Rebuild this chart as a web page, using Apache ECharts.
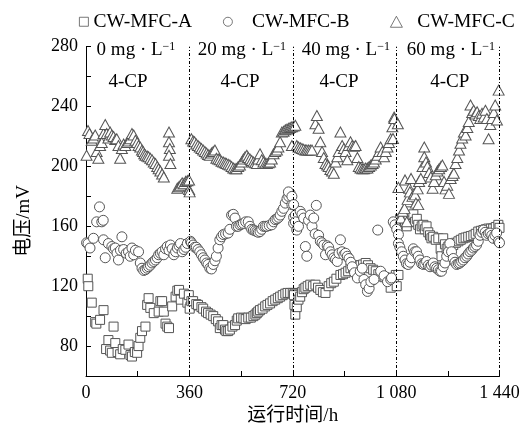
<!DOCTYPE html>
<html>
<head>
<meta charset="utf-8">
<script src="https://cdn.jsdelivr.net/npm/echarts@6.0.0/dist/echarts.min.js"></script>
<style>
  html, body { margin: 0; padding: 0; background: #fff; }
  #main { width: 526px; height: 437px; }
</style>
</head>
<body>
<div id="main"></div>
<script>
"use strict";
// [运行时间 h, 电压 mV]
var dataA = [
  [6,125],[8,120],[20,109],[32,96],[36,95],[49,97.5],[61,104],[70,78],[78,84],[84,77],[90,75.5],[96,93],[102,82],[110,76],[119,74.5],[128,78],[137,77.5],[148,81],[155,74],[160,73],[170,76],[178,75.5],[183,80],[189,85.5],[195,90],[207,93],[213,107.5],[218,112],[224,105.5],[236,102],[253,103],[259,110],[265,110],[271,103],[277,95],[283,93],[289,92],[300,106.5],[312,113],[318,117],[324,117.5],[330,111],[341,115],[353,109],[358,114],[364,106.5],
  [361,105],[367,110],[373,110],[384,108],[390,107.5],[402,106],[408,105],[418,103],[425,102],[434,101],[443,100],[452,98],[460,96.5],[466,92],[472,94],[478,94],[484,91],[489,90],[495,90],[501,91],[510,93],[519,94],[525,97],[530,98.5],[540,99],[548,98.5],[556,98],[565,99],[574,99],[583,100],[590,101],[595,102],[600,103],[606,104],[615,105],[624,106.5],[632,107.5],[641,108.5],[650,110],[659,111],[668,112],[676,113],[685,114],[694,115],[702,115.5],[711,115.5],[720,115.5],[726,115],[729,101],
  [724,114],[726,107.5],[734,106],[740,111],[746,113],[752,116],[758,118],[764,119],[772,120],[781,121],[790,120],[799,121],[808,119],[816,117.5],[825,116],[834,115.5],[845,120],[854,122],[863,123],[872,125],[886,127.5],[895,128],[904,129],[913,130],[921,132],[930,132.5],[939,133],[947,134],[956,134],[965,134.5],[974,135.5],[982,134],[991,132],[1000,131],[1009,130],[1018,128],[1026,126.5],[1040,126],[1050,125.5],[1061,119],[1072,125],[1079,127.5],[1082,120],
  [1088,127.5],[1094,165],[1100,163],[1105,165],[1111,162],[1117,160],[1123,166],[1129,170],[1134,167.5],[1140,168],[1146,163],[1152,165],[1157,161],[1163,158],[1169,160],[1175,161],[1180,158],[1186,160],[1192,156],[1198,154],[1203,152],[1209,153],[1218,151],[1227,152],[1235,145],[1238,140],[1244,152],[1250,148],[1256,145],[1262,146.5],[1270,148],[1279,147.5],[1288,149],[1297,150],[1305,151],[1314,152],[1322,152.5],[1331,153],[1340,153.5],[1349,154],[1357,155],[1366,156.5],[1375,157],[1384,157.5],[1392,158],[1401,158.5],[1410,158.5],[1418,158.5],[1427,159.5],[1436,161],[1440,159]
];
var dataB = [
  [2,149],[7,148.5],[14,145.5],[26,152],[37,163],[47,173],[55,163],[60,164],[61,151],[67,139],[78,148.5],[90,146.5],[96,145],[102,145.5],[108,142],[113,137.5],[120,144],[125,153],[131,144.5],[140,142],[148,143],[154,140],[160,145.5],[166,141],[172,144],[183,143],[189,135.5],[195,132],[201,130.5],[207,131],[213,132],[218,133],[224,134],[230,135.5],[236,136.5],[242,137.5],[248,139],[253,141],[259,142],[265,143],[271,141],[277,145],[283,146.5],[289,144],[294,147.5],[300,145],[306,141],[312,143],[318,145.5],[324,147],[329,148.5],[335,143],[341,144.5],[347,146],[353,148.5],[364,150],
  [367,149],[373,147.5],[379,146],[384,146],[390,144.5],[396,143],[402,141],[408,139],[414,137.5],[420,135.5],[425,134.5],[431,132],[437,131.5],[443,134.5],[449,137],[454,140],[460,145.5],[466,151],[472,153],[478,154.5],[486,155],[495,155.5],[501,158],[507,167.5],[513,168],[519,165.5],[524,160],[530,160],[536,161],[542,161.5],[548,162],[556,163],[565,163],[571,160],[577,158],[583,157.5],[589,157],[595,156.5],[600,156],[606,156.5],[612,158],[618,160],[624,160],[630,160],[638,160.5],[647,161],[653,163],[659,164.5],[665,165],[671,166],[676,167.5],[682,170],[688,172],[694,175.5],[700,178.5],[706,180],[711,182],[717,174.5],[723,166],[729,167.5],
  [705,183],[717,180],[723,174.5],[723,162],[729,163],[734,157.5],[740,160],[746,170],[752,168],[758,165.5],[764,146.5],[769,140],[775,164],[781,167.5],[787,160],[793,165.5],[798,155],[802,174],[810,154],[816,150],[822,149],[828,147.5],[834,141],[840,147],[845,146],[851,143],[857,141],[863,139],[869,138],[875,136.5],[881,142],[886,151],[892,143],[898,141],[904,142],[910,140],[916,138.5],[922,136],[927,133],[935,129],[945,125.5],[955,130],[962,132],[968,124.5],[974,121],[980,116.5],[986,118.5],[992,123],[1003,124.5],[1016,157.5],[1026,130],[1038,127],[1050,123],[1061,124.5],[1064,125.5],
  [1070,163],[1076,161],[1082,158],[1088,154.5],[1088,148.5],[1093,146],[1099,143],[1105,140],[1111,137.5],[1116,135],[1122,134.5],[1128,136],[1134,139],[1140,145],[1145,143],[1151,143],[1157,140],[1163,137.5],[1169,135],[1175,134.5],[1180,135],[1186,136.5],[1192,134],[1198,133],[1203,134],[1209,135.5],[1215,133],[1221,132],[1227,131],[1233,130],[1238,130],[1244,133],[1250,135.5],[1256,140],[1262,143],[1267,148.5],[1273,143],[1279,138.5],[1285,136],[1291,134.5],[1297,135],[1302,135.5],[1308,136.5],[1314,137.5],[1320,139],[1326,140],[1331,141.5],[1337,143],[1343,144],[1349,145.5],[1354,146.5],[1360,147.5],[1366,150],[1372,154],[1378,156],[1384,157.5],[1390,156],[1395,154],[1401,155],[1407,155.5],[1413,154],[1418,152],[1424,154],[1430,155.5],[1436,150],[1440,149]
];
var dataC = [
  [2,207.5],[7,224],[12,222],[20,217.5],[26,219],[32,221],[37,210],[43,205.5],[49,214],[55,216],[61,222],[67,228],[72,222],[78,219],[84,223],[90,221],[96,220],[102,218],[107,218.5],[113,214],[119,205.5],[125,212],[131,215],[137,214],[143,216],[148,217],[154,218.5],[160,222],[166,221],[172,217.5],[178,216],[183,214],[189,213],[195,211],[199,210],[203,208.5],[207,207.5],[213,207],[218,206.5],[224,205.5],[230,204.5],[236,203],[242,202],[248,200],[253,198.5],[259,197],[265,195],[271,193],[289,223],[289,216.5],[292,212],[289,207.5],[294,202],[318,185.5],[324,186.5],[329,187.5],[335,189],[341,188.5],[347,190],[353,190.5],[359,191],[359,184.5],[361,183],
  [367,218.5],[373,217],[378,216.5],[384,215],[390,214],[396,213],[402,212],[408,211],[414,210],[420,209],[425,208],[431,207.5],[437,209],[443,210],[449,211],[454,205.5],[460,205],[466,204.5],[472,203.5],[478,203],[484,202.5],[489,202],[495,201.5],[501,201],[507,200],[513,199],[519,198.5],[524,198.5],[530,200],[536,201],[542,203],[548,205],[554,206.5],[560,207.5],[565,206],[571,205],[577,204],[583,203],[589,202.5],[595,202],[600,205],[606,208.5],[612,204.5],[618,203],[624,202],[630,202],[636,202.5],[641,203],[647,205],[653,208.5],[659,210],[665,211],[670,213],[676,216.5],[682,223],[688,223.5],[694,224.5],[700,225],[706,225.5],[711,226],[717,226.5],[723,227],[729,227.5],
  [717,214],[734,214],[740,213],[746,212.5],[752,212],[758,211.5],[764,211],[769,211],[775,211],[781,211],[787,211],[799,228.5],[804,234],[810,225.5],[816,216.5],[822,210],[828,206],[834,202],[840,201],[845,200],[851,198],[857,197],[863,195.5],[869,203],[875,206.5],[880,210],[886,223],[892,214],[898,212],[904,210],[910,204.5],[915,214],[921,216.5],[927,214],[933,213.5],[939,214],[945,206],[950,200],[956,199],[962,198.5],[968,198.5],[974,199],[980,199],[986,200],[992,201],[998,202],[1003,203],[1009,205],[1015,207.5],[1021,210],[1026,213],[1032,210],[1038,206.5],[1044,210],[1050,213],[1055,216],[1061,218.5],[1067,226.5],[1069,218.7],[1073,233],
  [1074,232],[1086,228.5],[1088,186],[1097,165.5],[1103,170],[1109,172],[1111,191],[1117,163],[1120,178],[1126,185.5],[1128,183],[1132,192],[1137,180],[1143,182],[1146,181],[1149,175.5],[1155,185],[1157,174.5],[1160,190],[1166,192],[1172,200],[1178,213],[1178,206.5],[1184,203],[1189,200],[1195,196],[1201,193],[1207,185.5],[1212,190],[1218,194.5],[1224,197],[1230,198.5],[1236,200],[1241,201],[1247,190],[1252,185],[1258,187.5],[1264,182],[1270,192],[1276,194],[1281,195.5],[1287,202],[1293,206],[1299,211],[1304,215.5],[1310,219],[1316,223],[1322,221],[1328,226],[1333,230],[1339,241],[1345,236],[1350,237.5],[1356,235],[1362,236.5],[1368,234],[1373,232],[1379,235.5],[1385,233],[1391,237.5],[1396,232],[1402,218.5],[1408,228],[1414,232],[1420,236],[1425,241],[1431,231],[1437,251]
];
var seriesNames = ['CW-MFC-A', 'CW-MFC-B', 'CW-MFC-C'];
var stageLines = [360, 720, 1080, 1440];
var stageLabels = ['0', '20', '40', '60'];
var stageLabelX = [174, 543, 905, 1271];
var cpLabelX = [146, 536, 881, 1267];

var serif = "'Liberation Serif', 'Times New Roman', 'Noto Sans CJK SC', serif";
var mark = { color: '#fff', borderColor: '#555', borderWidth: 1, opacity: 1 };
var legendIcon = { color: '#fff', borderColor: '#555', borderWidth: 0.8 };
var legendText = { fontSize: 19.5, fontFamily: serif, color: '#000' };

function fmtX(v) {
  if (v % 360 !== 0) return '';
  return String(v).replace(/\B(?=(\d{3})+(?!\d))/g, ' ');
}

var annot = [];
stageLabels.forEach(function (s, i) {
  annot.push({ coord: [stageLabelX[i], 277.8], label: { formatter: '{n|' + s + ' mg · L}{s|−1}' } });
  annot.push({ coord: [cpLabelX[i], 256.5], label: { formatter: '{n|4-CP}' } });
});

var myChart = echarts.init(document.getElementById('main'));
var option = {
  backgroundColor: '#fff',
  animation: false,
  textStyle: { fontFamily: serif, color: '#000' },
  grid: { left: 86, right: 26.5, top: 46.7, bottom: 61, containLabel: false },
  legend: [
    { data: [seriesNames[0]], left: 74, top: 7, itemWidth: 9, itemHeight: 9,
      itemStyle: legendIcon, textStyle: legendText },
    { data: [seriesNames[1]], left: 218, top: 7, itemWidth: 9, itemHeight: 9, formatter: '   {name}',
      itemStyle: legendIcon, textStyle: legendText },
    { data: [seriesNames[2]], left: 385, top: 7, itemWidth: 12, itemHeight: 11, formatter: '  {name}',
      itemStyle: legendIcon, textStyle: legendText }
  ],
  xAxis: {
    type: 'value', min: 0, max: 1440, interval: 180,
    name: '运行时间/h', nameLocation: 'middle', nameGap: 31,
    nameTextStyle: { fontSize: 19, fontFamily: serif, color: '#000' },
    axisLine: { lineStyle: { color: '#000', width: 1 } },
    axisTick: { inside: true, length: 5, lineStyle: { color: '#000' } },
    axisLabel: { formatter: fmtX, fontSize: 18, fontFamily: serif, color: '#000', margin: 8 },
    splitLine: { show: false }
  },
  yAxis: {
    type: 'value', min: 60, max: 280, interval: 20,
    name: '电压/mV    ', nameLocation: 'middle', nameGap: 52,
    nameTextStyle: { fontSize: 19, fontFamily: serif, color: '#000' },
    axisLine: { show: true, lineStyle: { color: '#000', width: 1 } },
    axisTick: { inside: true, length: 5, lineStyle: { color: '#000' } },
    axisLabel: {
      formatter: function (v) { return (v - 80) % 40 === 0 ? String(v) : ''; },
      fontSize: 18, fontFamily: serif, color: '#000', margin: 8
    },
    splitLine: { show: false }
  },
  series: [
    {
      name: seriesNames[0], type: 'scatter', symbol: 'rect', symbolSize: 9,
      itemStyle: mark, emphasis: { disabled: true }, data: dataA, z: 3,
      markLine: {
        silent: true, symbol: 'none', animation: false,
        label: { show: false },
        lineStyle: { color: '#000', width: 1, type: [3, 2, 1, 2] },
        data: stageLines.map(function (x) { return { xAxis: x }; })
      }
    },
    {
      name: seriesNames[1], type: 'scatter', symbol: 'circle', symbolSize: 10,
      itemStyle: mark, emphasis: { disabled: true }, data: dataB, z: 3
    },
    {
      name: seriesNames[2], type: 'scatter', symbol: 'triangle', symbolSize: [11, 10],
      itemStyle: mark, emphasis: { disabled: true }, data: dataC, z: 3,
      markPoint: {
        silent: true, symbol: 'circle', symbolSize: 0, animation: false,
        label: {
          show: true, position: 'inside', color: '#000',
          rich: {
            n: { fontSize: 19, fontFamily: serif, color: '#000' },
            s: { fontSize: 12, fontFamily: serif, color: '#000', verticalAlign: 'top' }
          }
        },
        data: annot
      }
    }
  ]
};
myChart.setOption(option);
</script>
</body>
</html>
